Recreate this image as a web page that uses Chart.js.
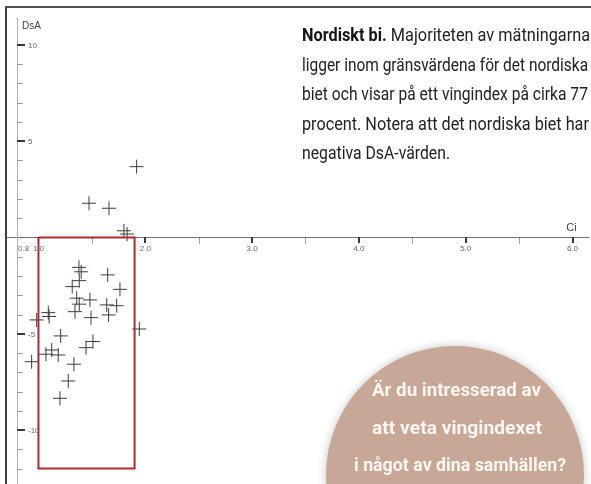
<!DOCTYPE html>
<html>
<head>
<meta charset="utf-8">
<script src="https://cdn.jsdelivr.net/npm/chart.js@4.4.0/dist/chart.umd.min.js"></script>
<style>
  body { margin: 0; background: #fff; }
  #wrap { position: relative; width: 591px; height: 484px; overflow: hidden; background: #fff; }
  #frame { position: absolute; left: 5px; top: 6px; width: 600px; height: 500px;
           border-top: 2px solid #505050; border-left: 2px solid #404040; }
  #chart { position: absolute; left: 0; top: 0; }
  .fit { position: absolute; white-space: nowrap; transform-origin: 0 50%; line-height: 20px; }
  .para { font-family: Roboto, "Liberation Sans", sans-serif; font-size: 18px; color: #222; }
  .para b { font-weight: 700; color: #141414; }
  #bubble { position: absolute; left: 326px; top: 346px; width: 258px; height: 258px; border-radius: 50%;
            background: #c7a796; box-shadow: 0 0 10px rgba(0,0,0,0.22); }
  .bub { font-family: Roboto, "Liberation Sans", sans-serif; font-size: 19px; font-weight: 700; color: #fbf6f2; }
</style>
</head>
<body>
<div id="wrap">
  <div id="frame"></div>
  <canvas id="chart" width="591" height="484"></canvas>

  <div class="fit para" data-x="302" data-y="35" data-w="288"><b>Nordiskt bi.</b> Majoriteten av mätningarna</div>
  <div class="fit para" data-x="302" data-y="65" data-w="286">ligger inom gränsvärdena för det nordiska</div>
  <div class="fit para" data-x="302" data-y="94" data-w="286">biet och visar på ett vingindex på cirka 77</div>
  <div class="fit para" data-x="302" data-y="124" data-w="287">procent. Notera att det nordiska biet har</div>
  <div class="fit para" data-x="302" data-y="153" data-w="148">negativa DsA-värden.</div>

  <div id="bubble"></div>
  <div class="fit bub" data-cx="456" data-y="390" data-w="169">Är du intresserad av</div>
  <div class="fit bub" data-cx="457" data-y="428" data-w="170">att veta vingindexet</div>
  <div class="fit bub" data-cx="460" data-y="465" data-w="212">i något av dina samhällen?</div>
</div>

<script>
// measurements (Ci = cubital index, DsA = discoidal shift angle)
const ciValues = [1.919, 1.473, 1.660, 1.800, 1.830,
  1.379, 1.400, 1.648, 1.382, 1.316, 1.763, 1.358, 1.482, 1.382, 1.639, 1.732,
  1.342, 1.657, 1.492, 1.092, 1.100, 0.983, 1.944, 1.208, 1.510, 1.445,
  1.124, 1.070, 1.185, 0.936, 1.332, 1.279, 1.201];
const dsaValues = [3.68, 1.78, 1.52, 0.35, 0.18,
  -1.55, -1.78, -1.94, -2.24, -2.55, -2.69, -3.15, -3.24, -3.46, -3.50, -3.54,
  -3.85, -4.02, -4.16, -3.90, -4.10, -4.28, -4.75, -5.11, -5.40, -5.72,
  -5.84, -6.06, -6.10, -6.45, -6.58, -7.45, -8.35];

// Nordic bee limits (red box)
const boxCi = [1.0, 1.9, 1.9, 1.0, 1.0];
const boxDsA = [0, 0, -12, -12, 0];

// axes
const xMajorTicks = [2, 3, 4, 5, 6];
const xMinorTicks = [1.5, 2.5, 3.5, 4.5, 5.5];
const xLabelValues = [0.8, 1, 2, 3, 4, 5, 6];
const xLabels = ['0.8', '1.0', '2.0', '3.0', '4.0', '5.0', '6.0'];
const yMajorTicks = [10, 5, -5, -10];
const yMinorTicks = [9, 8, 7, 6, 4, 3, 2, 1, -1, -2, -3, -4, -6, -7, -8, -9, -11, -12];
const yLabels = ['10', '5', '-5', '-10'];
const yAxisAtCi = 0.8;

const points = ciValues.map((c, i) => ({ x: c, y: dsaValues[i] }));
const box = boxCi.map((c, i) => ({ x: c, y: boxDsA[i] }));

const axisMarks = {
  id: 'axisMarks',
  beforeDatasetsDraw(chart) {
    const ctx = chart.ctx;
    const xs = chart.scales.x, ys = chart.scales.y;
    const ax = Math.round(xs.getPixelForValue(yAxisAtCi));
    const ay = Math.round(ys.getPixelForValue(0));
    const seg = (x1, y1, x2, y2) => { ctx.beginPath(); ctx.moveTo(x1, y1); ctx.lineTo(x2, y2); ctx.stroke(); };
    ctx.save();

    ctx.strokeStyle = '#a0a0a0'; ctx.lineWidth = 1;
    yMinorTicks.forEach(v => { const y = Math.round(ys.getPixelForValue(v)) + 0.5; seg(ax, y, ax + 6, y); });
    xMinorTicks.forEach(v => { const x = Math.round(xs.getPixelForValue(v)) + 0.5; seg(x, ay, x, ay + 6); });

    ctx.strokeStyle = '#3a3a3a'; ctx.lineWidth = 2;
    yMajorTicks.forEach(v => { const y = Math.round(ys.getPixelForValue(v)); seg(ax, y, ax + 8, y); });
    xMajorTicks.forEach(v => { const x = Math.round(xs.getPixelForValue(v)); seg(x, ay - 1, x, ay + 5); });

    ctx.fillStyle = '#666';
    ctx.font = '8px "Liberation Sans", Arial, sans-serif';
    ctx.textBaseline = 'middle';
    ctx.textAlign = 'left';
    yMajorTicks.forEach((v, i) => ctx.fillText(yLabels[i], ax + 11, ys.getPixelForValue(v) + 0.5));
    xLabelValues.forEach((v, i) => {
      ctx.textAlign = i === 0 ? 'left' : 'center';
      ctx.fillText(xLabels[i], xs.getPixelForValue(v) + (i === 0 ? 1 : 0), ay + 11);
    });

    ctx.fillStyle = '#444';
    ctx.font = '10px "Liberation Sans", Arial, sans-serif';
    ctx.textAlign = 'left';
    ctx.fillText('DsA', ax + 5, 26);
    ctx.font = '11px "Liberation Sans", Arial, sans-serif';
    ctx.textAlign = 'center';
    ctx.fillText('Ci', xs.getPixelForValue(6) - 1, ay - 10);
    ctx.restore();
  }
};

new Chart(document.getElementById('chart'), {
  type: 'scatter',
  data: {
    datasets: [
      {
        data: box,
        showLine: true,
        borderColor: '#b3282c',
        borderWidth: 2,
        pointRadius: 0,
        fill: false,
        tension: 0
      },
      {
        data: points,
        pointStyle: 'cross',
        pointRadius: 7,
        borderColor: '#3d3d3d',
        borderWidth: 1,
        backgroundColor: '#3d3d3d'
      }
    ]
  },
  options: {
    responsive: false,
    animation: false,
    layout: { autoPadding: false, padding: { left: 6, right: 3, top: 18, bottom: 0 } },
    plugins: { legend: { display: false }, tooltip: { enabled: false } },
    scales: {
      x: {
        type: 'linear', min: 0.696, max: 6.145,
        position: { y: 0 },
        grid: { display: false },
        ticks: { display: false },
        border: { color: '#707070', width: 1 },
        afterFit: s => { s.height = 0; }
      },
      y: {
        type: 'linear', min: -12.8, max: 11.4,
        position: { x: yAxisAtCi },
        grid: { display: false },
        ticks: { display: false },
        border: { color: '#b4b4b4', width: 1 },
        afterFit: s => { s.width = 0; }
      }
    }
  },
  plugins: [axisMarks]
});

// squeeze the text lines to the condensed widths of the original
document.querySelectorAll('.fit').forEach(el => {
  const w = +el.dataset.w;
  const natural = el.getBoundingClientRect().width;
  const left = el.dataset.cx ? +el.dataset.cx - w / 2 : +el.dataset.x;
  el.style.left = left + 'px';
  el.style.top = (+el.dataset.y - 10) + 'px';
  el.style.transform = 'scaleX(' + (w / natural).toFixed(3) + ')';
});
</script>
</body>
</html>
